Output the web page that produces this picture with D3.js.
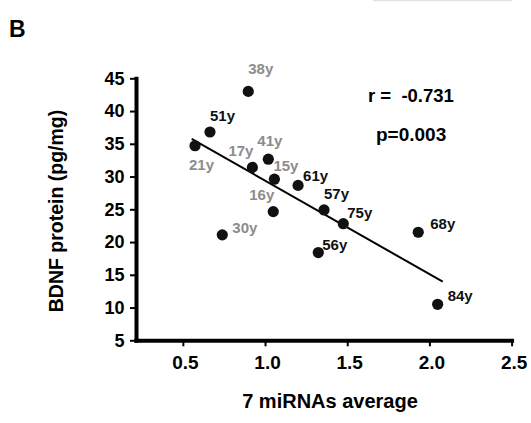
<!DOCTYPE html>
<html>
<head>
<meta charset="utf-8">
<script src="https://cdn.jsdelivr.net/npm/d3@7"></script>
<style>
  html, body { margin: 0; padding: 0; background: #fff; }
  svg { display: block; font-family: "Liberation Sans", Arial, sans-serif; }
</style>
</head>
<body>
<script>
// ---- Data ----
const ages      = ["38y","51y","21y","17y","41y","15y","61y","16y","30y","57y","75y","56y","68y","84y"];
const mirnaAvg  = [0.898, 0.665, 0.574, 0.923, 1.020, 1.057, 1.201, 1.050, 0.740, 1.359, 1.476, 1.324, 1.932, 2.050];
const bdnf      = [43.0, 36.8, 34.7, 31.4, 32.65, 29.6, 28.65, 24.65, 21.1, 24.9, 22.8, 18.4, 21.5, 10.5];
const ageGroup  = ["young","old","young","young","young","young","old","young","young","old","old","old","old","old"];
const fitX      = [0.554, 2.081];
const fitY      = [35.75, 13.95];
const xTicks    = [0.5, 1.0, 1.5, 2.0, 2.5];
const yTicks    = [5, 10, 15, 20, 25, 30, 35, 40, 45];
const xDomain   = [0.215, 2.5];
const yDomain   = [5, 45];
const statR     = "r = -0.731";
const statP     = "p=0.003";

// ---- Layout (label placement relative to its point) ----
const labelOffset = {
  "38y": [0, -17], "51y": [0, -11], "21y": [-6, 24], "17y": [-24, -11],
  "41y": [-11, -13], "15y": [-1, -8], "61y": [5, -4], "16y": [-24, -12],
  "30y": [10, -2], "57y": [0, -11], "75y": [4, -6], "56y": [4, -3],
  "68y": [12, -3], "84y": [10, -3]
};
const groupColor = { young: "#8c8c8c", old: "#111111" };

const W = 531, H = 423;
const svg = d3.select("body").append("svg").attr("width", W).attr("height", H);

const x = d3.scaleLinear().domain(xDomain).range([136, 511.6]);
const y = d3.scaleLinear().domain(yDomain).range([340.3, 78.3]);

// faint border artifact at top right
svg.append("line").attr("x1", 373).attr("x2", 512).attr("y1", 0.5).attr("y2", 0.5)
  .attr("stroke", "#e2e2e2").attr("stroke-width", 1.5);

// panel letter
svg.append("text").attr("x", 9).attr("y", 36.5)
  .attr("font-size", 23).attr("font-weight", "bold").attr("fill", "#000").text("B");

// axes
const yAxis = d3.axisLeft(y).tickValues(yTicks).tickSize(6).tickSizeOuter(0).tickPadding(5.5)
  .tickFormat(d3.format("d"));
const gy = svg.append("g").attr("transform", `translate(${x(xDomain[0])},0)`).call(yAxis);
gy.select(".domain").attr("stroke", "#000").attr("stroke-width", 4).attr("stroke-linecap", "square");
gy.selectAll(".tick line").attr("stroke", "#000").attr("stroke-width", 2);
gy.selectAll(".tick text").attr("font-size", 18).attr("font-weight", "bold").attr("fill", "#000")
  .attr("font-family", "'Liberation Sans', Arial, sans-serif");

const xAxis = d3.axisBottom(x).tickValues(xTicks).tickSize(6).tickSizeOuter(0).tickPadding(9)
  .tickFormat(d3.format(".1f"));
const gx = svg.append("g").attr("transform", `translate(0,${y(yDomain[0])})`).call(xAxis);
gx.select(".domain").attr("stroke", "#000").attr("stroke-width", 4).attr("stroke-linecap", "square");
gx.selectAll(".tick line").attr("stroke", "#000").attr("stroke-width", 2);
gx.selectAll(".tick text").attr("font-size", 19).attr("font-weight", "bold").attr("fill", "#000")
  .attr("dx", 2).attr("font-family", "'Liberation Sans', Arial, sans-serif");

// axis titles
svg.append("text").attr("x", 330).attr("y", 408).attr("text-anchor", "middle")
  .attr("font-size", 20).attr("font-weight", "bold").attr("fill", "#000").text("7 miRNAs average");
svg.append("text").attr("transform", "translate(63,211) rotate(-90)").attr("text-anchor", "middle")
  .attr("font-size", 19.5).attr("font-weight", "bold").attr("fill", "#000").text("BDNF protein (pg/mg)");

// regression line
svg.append("line")
  .attr("x1", x(fitX[0])).attr("y1", y(fitY[0]))
  .attr("x2", x(fitX[1])).attr("y2", y(fitY[1]))
  .attr("stroke", "#000").attr("stroke-width", 2);

// points
const pts = ages.map((a, i) => ({ age: a, mx: mirnaAvg[i], b: bdnf[i], g: ageGroup[i] }));
svg.append("g").selectAll("circle").data(pts).join("circle")
  .attr("cx", d => x(d.mx)).attr("cy", d => y(d.b)).attr("r", 5.6).attr("fill", "#111");

// labels
svg.append("g").selectAll("text").data(pts).join("text")
  .attr("x", d => x(d.mx) + labelOffset[d.age][0])
  .attr("y", d => y(d.b) + labelOffset[d.age][1])
  .attr("font-size", 15).attr("font-weight", "bold")
  .attr("fill", d => groupColor[d.g]).text(d => d.age);

// statistics
svg.append("text").attr("x", 368).attr("y", 101.7).attr("font-size", 18.5).attr("font-weight", "bold")
  .attr("fill", "#000").attr("xml:space", "preserve").style("white-space", "pre").text(statR.replace("= ", "=  "));
svg.append("text").attr("x", 376).attr("y", 140.7).attr("font-size", 19).attr("font-weight", "bold")
  .attr("fill", "#000").text(statP);
</script>
</body>
</html>
